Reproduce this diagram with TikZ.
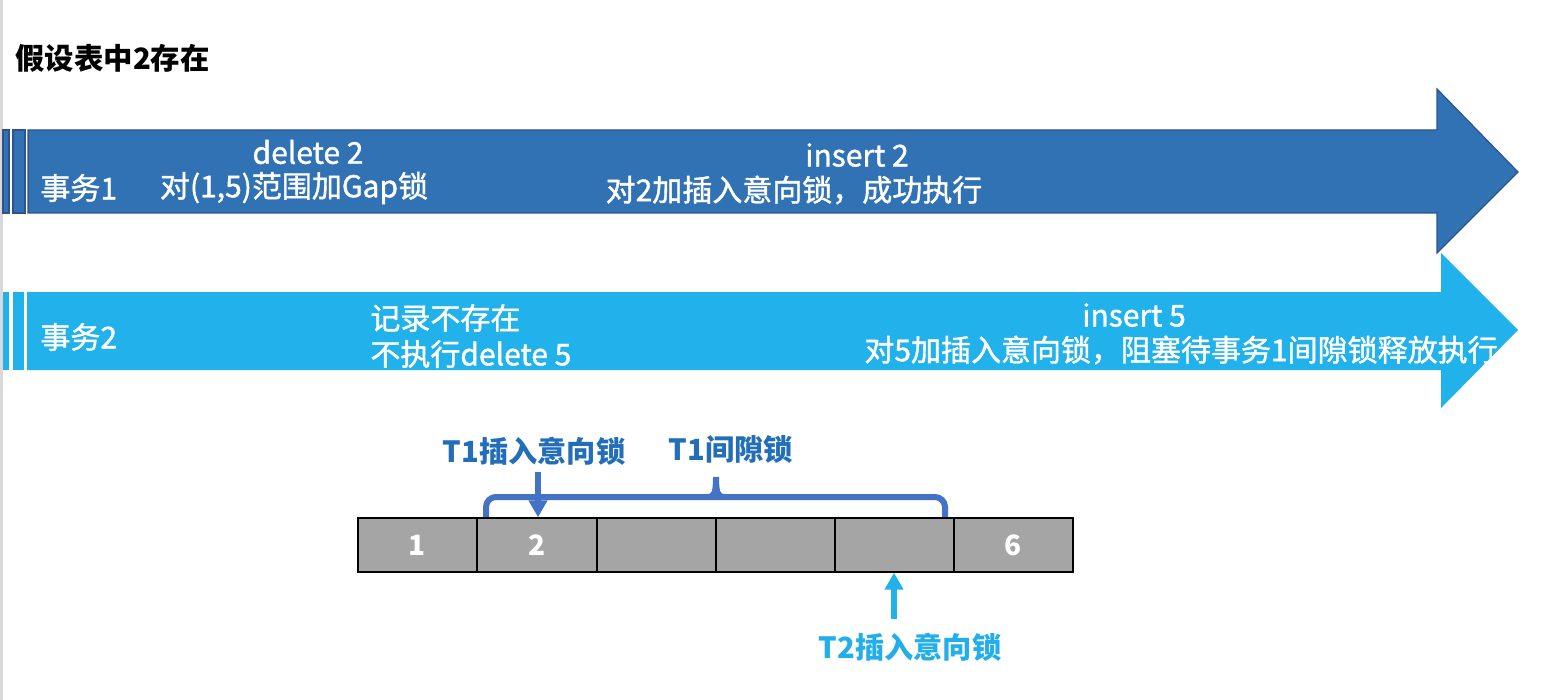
\documentclass[tikz,border=0pt]{standalone}
\usepackage{fontspec}
\setmainfont{Noto Sans CJK SC}
\newfontfamily\medfont{Noto Sans CJK SC}[FakeBold=1.3]
\usetikzlibrary{arrows.meta}
\definecolor{darkarrow}{RGB}{48,114,179}
\definecolor{darkedge}{RGB}{47,82,143}
\definecolor{lightarrow}{RGB}{33,177,235}
\definecolor{bracecol}{RGB}{68,114,196}
\definecolor{t1text}{RGB}{34,110,184}
\definecolor{t2text}{RGB}{33,174,234}
\definecolor{cellgray}{RGB}{165,165,165}
\tikzset{
  x=0.5pt, y=-0.5pt,
  arrowtext/.style={text=white, inner sep=0pt, font=\fontsize{15}{17}\medfont},
  cell/.style={draw=black, line width=0.7pt, fill=cellgray, minimum width=59.5pt, minimum height=27pt, inner sep=0pt, text=white, font=\fontsize{14}{16}\selectfont\bfseries},
  lbl/.style={inner sep=0pt, font=\fontsize{14.6}{17}\selectfont\bfseries},
  bracestyle/.style={bracecol, line width=3pt},
}
\begin{document}
\begin{tikzpicture}
\fill[white] (0,0) rectangle (1546,700);
\useasboundingbox (0,0) rectangle (1546,700);
\fill[gray!30] (0,0) rectangle (3,700);

% title
\node[anchor=west, inner sep=0pt, font=\fontsize{14.7}{17}\selectfont\bfseries] (title) at (15,58) {假设表中2存在};

% arrow 1
\draw[darkedge, fill=darkarrow, line width=0.6pt] (3,130) rectangle (9,213);
\draw[darkedge, fill=darkarrow, line width=0.6pt] (13,130) rectangle (25,213);
\draw[darkedge, fill=darkarrow, line width=0.6pt] (28,130) -- (1437,130) -- (1437,89) -- (1518,172) -- (1437,253) -- (1437,213) -- (28,213) -- cycle;

\node[arrowtext, anchor=west] (tx1) at (40,188) {事务1};
\node[arrowtext] (d2) at (308,152) {delete 2};
\node[arrowtext] (gap) at (294,188) {对(1,5)范围加Gap锁};
\node[arrowtext] (i2) at (857,155) {insert 2};
\node[arrowtext] (i2b) at (794,190) {对2加插入意向锁，成功执行};

% arrow 2
\fill[lightarrow] (3,292) rectangle (9,370);
\fill[lightarrow] (13,292) rectangle (24,370);
\fill[lightarrow] (27,292) -- (1441,292) -- (1441,253) -- (1518,330) -- (1441,408) -- (1441,370) -- (27,370) -- cycle;

\node[arrowtext, anchor=west] (tx2) at (40,337) {事务2};
\node[arrowtext, anchor=west] (nr) at (370,318) {记录不存在};
\node[arrowtext, anchor=west] (nd) at (370,354) {不执行delete 5};
\node[arrowtext] (i5) at (1134,315) {insert 5};
\node[arrowtext] (i5b) at (1181,350) {对5加插入意向锁，阻塞待事务1间隙锁释放执行};

% cells
\node[cell] (c1) at (417.5,545) {1};
\node[cell] (c2) at (537,545) {2};
\node[cell] (c3) at (656.5,545) {};
\node[cell] (c4) at (775.5,545) {};
\node[cell] (c5) at (894.5,545) {};
\node[cell] (c6) at (1013.5,545) {6};

% brace
\draw[bracestyle, rounded corners=5pt] (486,517) -- (486,497) -- (945,497) -- (945,517);
\draw[bracestyle] (707,497) .. controls (714,497) and (716,494) .. (716,477);
\draw[bracestyle] (725,497) .. controls (718,497) and (716,494) .. (716,477);

% labels
\node[lbl, text=t1text] (l1) at (534,451) {T1插入意向锁};
\node[lbl, text=t1text] (l2) at (731,449) {T1间隙锁};
\node[lbl, text=t2text] (l3) at (910,647) {T2插入意向锁};

\coordinate (a1) at (538,472);
\coordinate (a2) at (894,619);
\draw[bracecol, line width=3pt, -{Triangle[width=9pt,length=8.5pt]}] (a1) -- (c2.north -| a1);
\draw[lightarrow, line width=2.6pt, -{Triangle[width=9pt,length=8.5pt]}] (a2) -- (c5.south -| a2);
\end{tikzpicture}
\end{document}
